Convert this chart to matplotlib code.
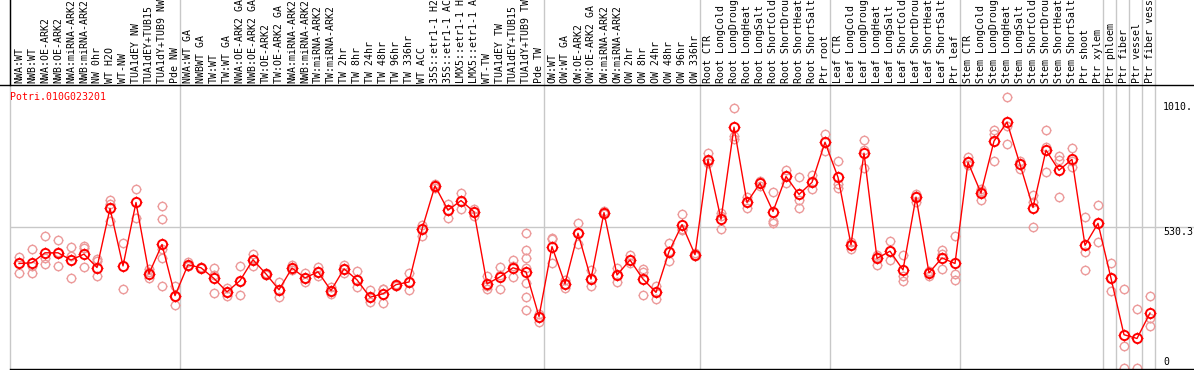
import matplotlib
matplotlib.use("Agg")
import matplotlib.pyplot as plt
from matplotlib.path import Path
from matplotlib.lines import Line2D

title = "Potri.010G023201"

labels = [
    "NWA:WT", "NWB:WT", "NWA:OE-ARK2", "NWB:OE-ARK2", "NWA:miRNA-ARK2", "NWB:miRNA-ARK2",
    "NW 0hr", "WT H2O", "WT-NW", "TUA1dEY NW", "TUA1dEY+TUB15", "TUA1dY+TUB9 NW", "Pde NW",
    "NWA:WT GA", "NWBWT GA", "TW:WT", "TW:WT GA", "NWA:OE-ARK2 GA", "NWB:OE-ARK2 GA",
    "TW:OE-ARK2", "TW:OE-ARK2 GA", "NWA:miRNA-ARK2", "NWB:miRNA-ARK2", "TW:miRNA-ARK2",
    "TW:miRNA-ARK2", "TW 2hr", "TW 8hr", "TW 24hr", "TW 48hr", "TW 96hr", "TW 336hr",
    "WT ACC", "35S::etr1-1 H2", "35S::etr1-1 AC", "LMX5::etr1-1 H", "LMX5::etr1-1 A",
    "WT-TW", "TUA1dEY TW", "TUA1dEY+TUB15", "TUA1dY+TUB9 TW", "Pde TW",
    "OW:WT", "OW:WT GA", "OW:OE-ARK2", "OW:OE-ARK2 GA", "OW:miRNA-ARK2", "OW:miRNA-ARK2",
    "OW 2hr", "OW 8hr", "OW 24hr", "OW 48hr", "OW 96hr", "OW 336hr",
    "Root CTR", "Root LongCold", "Root LongDroug", "Root LongHeat", "Root LongSalt",
    "Root ShortCold", "Root ShortDrou", "Root ShortHeat", "Root ShortSalt", "Ptr root",
    "Leaf CTR", "Leaf LongCold", "Leaf LongDroug", "Leaf LongHeat", "Leaf LongSalt",
    "Leaf ShortCold", "Leaf ShortDrou", "Leaf ShortHeat", "Leaf ShortSalt", "Ptr leaf",
    "Stem CTR", "Stem LongCold", "Stem LongDroug", "Stem LongHeat", "Stem LongSalt",
    "Stem ShortCold", "Stem ShortDrou", "Stem ShortHeat", "Stem ShortSalt", "Ptr shoot",
    "Ptr xylem", "Ptr phloem", "Ptr fiber", "Ptr vessel", "Ptr fiber vess",
]

means = [
    394, 397, 434, 434, 407, 429, 379, 600, 385, 622, 356, 465, 274,
    389, 378, 338, 288, 330, 408, 355, 296, 377, 340, 363, 293, 374, 333, 268, 281,
    315, 325, 522, 684, 593, 629, 587, 318, 344, 378, 363, 196,
    457, 318, 507, 336, 584, 351, 407, 336, 286, 438, 539, 427,
    782, 559, 903, 622, 694, 588, 719, 652, 697, 847,
    716, 464, 806, 413, 440, 370, 642, 359, 415, 394,
    772, 657, 851, 922, 764, 603, 817, 742, 783, 462,
    544, 339, 128, 114, 209,
]

replicates = [
    [419, 394, 359], [447, 384, 359], [498, 415, 393], [480, 437, 385], [457, 422, 338],
    [459, 453, 381], [412, 402, 348], [632, 618, 553], [472, 300], [674, 565],
    [372, 361, 339], [607, 562, 447, 413, 311], [309, 274, 240],
    [399, 386, 383], [380, 376], [378, 352, 284], [303, 288, 274], [384, 330, 276],
    [428, 411, 384], [359, 355, 350], [325, 296, 269], [389, 377, 370], [359, 340, 324],
    [382, 363, 347], [306, 293, 279], [390, 374, 359], [365, 333, 305], [294, 268, 249],
    [299, 298, 246], [319, 315, 311], [357, 325, 296], [539, 522, 497], [691, 684, 676],
    [618, 593, 565], [656, 629, 599], [599, 587, 572], [349, 310, 299], [382, 350, 299],
    [407, 384, 344], [507, 444, 415, 377, 322, 268, 221], [206, 196, 175],
    [489, 486, 397], [331, 318, 303], [547, 507, 465], [368, 336, 309], [590, 584, 578],
    [378, 351, 324], [425, 407, 397], [375, 362, 278], [309, 286, 262], [469, 440, 403],
    [577, 522, 518], [434, 427, 422],
    [806, 782, 769], [584, 570, 524], [975, 872, 859], [641, 622, 603], [703, 694, 685],
    [662, 553, 544], [744, 719, 693], [716, 632, 603], [724, 697, 672], [877, 847, 813],
    [776, 690, 675], [474, 464, 449], [856, 816, 751], [425, 420, 390], [478, 440, 407],
    [425, 347, 330], [653, 647, 624], [365, 362, 347], [444, 430, 374], [497, 353, 334],
    [791, 772, 762], [672, 666, 632], [894, 878, 776], [1016, 909, 839], [778, 767, 747],
    [649, 624, 532], [891, 828, 734], [797, 782, 644], [824, 778, 753], [569, 437, 369],
    [614, 544, 475], [394, 339, 293], [299, 86, 3], [225, 5], [274, 190, 161],
]

group_ends = [13, 41, 53, 63, 73, 84, 85, 86, 87, 88]
y_max = 1060.6
y_mid = 530.3
y_labels = ["1010.", "530.3", "0"]

W, H = 1194, 370
fig = plt.figure(figsize=(W / 100, H / 100), dpi=100)
ax_left, ax_bottom, ax_top = 10, 1, 85
ax = fig.add_axes([ax_left / W, ax_bottom / H, (W - ax_left) / W, (H - ax_bottom - ax_top) / H])
x0 = (ax_left - 6) / 13.0
x1 = (W - 6) / 13.0
ax.set_xlim(x0, x1)
ax.set_ylim(0, y_max)
ax.set_xticks([])
ax.set_yticks([])
for s in ["left", "right", "top"]:
    ax.spines[s].set_visible(False)
ax.spines["bottom"].set_color("black")
ax.spines["bottom"].set_linewidth(1.0)

mono = "DejaVu Sans Mono"
fs = 7.1
ax_h = H - ax_bottom - ax_top
top_ext = 1 + ax_top / ax_h

grid_c = "#c8c8c8"
ax.axvline(x0 + 0.02, ymin=0, ymax=top_ext, color=grid_c, lw=1.0, clip_on=False, zorder=0)
ax.plot([x0 + 0.02, x0 + 0.02], [1.0, top_ext], transform=ax.get_xaxis_transform(),
        color="black", lw=1.0, clip_on=False, zorder=1)
for g in group_ends:
    ax.axvline(g + 0.41, ymin=0, ymax=top_ext, color=grid_c, lw=1.0, clip_on=False, zorder=0)
ax.axhline(y_mid, color=grid_c, lw=1.0, zorder=0)

fig.add_artist(Line2D([0, 1], [1 - ax_top / H, 1 - ax_top / H], transform=fig.transFigure,
                      color="black", lw=1.0))

xs = list(range(1, len(means) + 1))

k = 1.3
stub = Path([(0, 1), (0, k), (0, -1), (0, -k), (1, 0), (k, 0), (-1, 0), (-k, 0)],
            [Path.MOVETO, Path.LINETO] * 4)

rep_c = "#ec9a9a"
rx, ry = [], []
for x, reps in zip(xs, replicates):
    for r in reps:
        rx.append(x)
        ry.append(r)
ax.plot(rx, ry, ls="none", marker="o", ms=6.0, mfc="none", mec=rep_c, mew=1.0, zorder=2, clip_on=False)
ax.plot(rx, ry, ls="none", marker=stub, ms=6.0 * k, mfc="none", fillstyle="none",
        mec=rep_c, mew=0.8, zorder=2, clip_on=False)

ax.plot(xs, means, color="#ff0000", lw=1.0, zorder=3)
ax.plot(xs, means, ls="none", marker="o", ms=6.6, mfc="none", mec="#ff0000", mew=1.4, zorder=4)
ax.plot(xs, means, ls="none", marker=stub, ms=6.6 * k, mfc="none", fillstyle="none",
        mec="#ff0000", mew=0.9, zorder=4)

lab_y = 1 + 2 / ax_h
for x, lab in zip(xs, labels):
    ax.text(x, lab_y, lab, rotation=90, ha="center", va="bottom", fontsize=fs,
            family=mono, color="black", transform=ax.get_xaxis_transform(), clip_on=False)

fig.text(10 / W, 1 - 97 / H, title, color="#ff0000", fontsize=fs, family=mono,
         ha="left", va="center")

ylab_px = [107, 232, 362]
for t, py in zip(y_labels, ylab_px):
    fig.text(1163 / W, 1 - py / H, t, color="black", fontsize=fs, family=mono,
             ha="left", va="center")

fig.savefig("out.png", dpi=100)
